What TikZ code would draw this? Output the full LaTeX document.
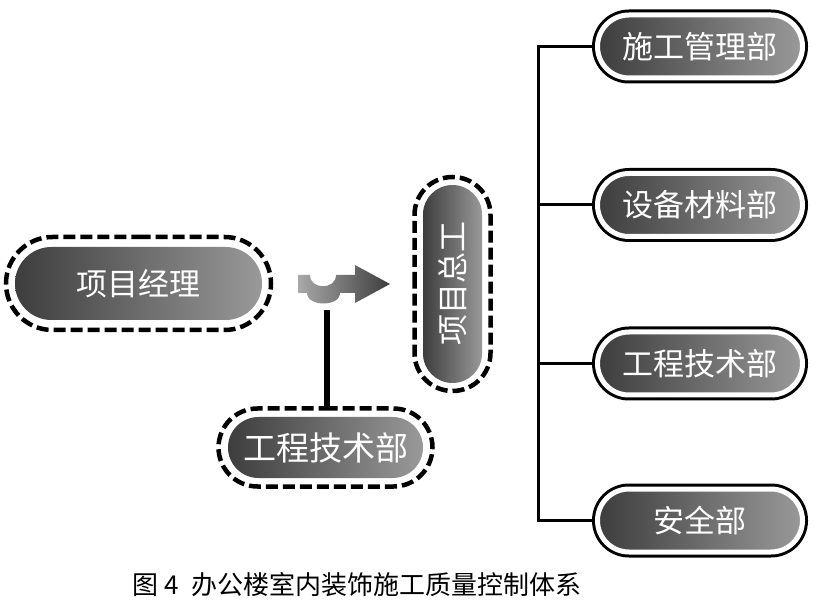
\documentclass[tikz,border=0pt]{standalone}
\usepackage{fontspec}
\newfontfamily\cjk{Noto Sans CJK SC}
\usetikzlibrary{shapes.misc,backgrounds}
\tikzset{
  pillbase/.style={rounded rectangle, text=white, font=\cjk\fontsize{31}{31}\selectfont,
    left color=black!76, right color=black!40, inner sep=0pt},
  solidpill/.style={pillbase, draw=white, line width=5pt,
    preaction={draw=black, line width=11pt}, minimum width=205pt, minimum height=63pt},
  dashframe/.style={rounded rectangle, draw=black, line width=4.5pt,
    dash pattern=on 12pt off 5pt, inner sep=0pt},
  conn/.style={line width=3pt, black},
}
\begin{document}
\begin{tikzpicture}[x=1pt,y=-1pt]
\begin{pgfonlayer}{background}
  \fill[white] (0,0) rectangle (830,609);
\end{pgfonlayer}
\useasboundingbox (0,0) rectangle (830,609);

% left: project manager
\node[pillbase, minimum width=247pt, minimum height=73pt] (pm) at (138.5,283.5) {项目经理};
\node[dashframe, minimum width=265pt, minimum height=93pt] (pmf) at (pm.center) {};

% vertical: chief engineer
\node[pillbase, rotate=90, minimum width=198pt, minimum height=59pt] (zg) at (452.5,284) {项目总工};
\node[dashframe, rotate=90, minimum width=214pt, minimum height=76pt] (zgf) at (zg.center) {};

% bottom: engineering technology dept
\node[pillbase, font=\cjk\fontsize{33}{33}\selectfont, minimum width=195pt, minimum height=61pt] (js) at (325.5,447.5) {工程技术部};
\node[dashframe, minimum width=214pt, minimum height=78pt] (jsf) at (js.center) {};

% right departments
\node[solidpill] (r1) at (700,46.5) {施工管理部};
\node[solidpill] (r2) at (700,205) {设备材料部};
\node[solidpill] (r3) at (700,363.5) {工程技术部};
\node[solidpill] (r4) at (700,520.5) {安全部};

% trunk connectors
\coordinate (tr) at (538,0);
\begin{pgfonlayer}{background}
  \draw[conn] (r1.west) -- (r1.west -| tr) -- (r4.west -| tr) -- (r4.west);
  \draw[conn] (r2.west) -- (r2.west -| tr);
  \draw[conn] (r3.west) -- (r3.west -| tr);
\end{pgfonlayer}

% arrow shape
\shade[left color=black!34, right color=black!76]
  (298,275) -- (310,275) .. controls (310,290) and (336,290) .. (336,275)
  -- (355,275) -- (355,265) -- (390,284) -- (355,303) -- (355,293) -- (340,293)
  .. controls (340,307) and (307,307) .. (307,293) -- (298,293) -- cycle;

% vertical stem under arrow
\coordinate (ja) at (327,310);
\draw[line width=6pt] (ja) -- (ja |- jsf.north);

% caption
\node[font=\cjk\fontsize{26}{26}\selectfont] (cap) at (357,585) {图\hspace{6pt}4\hspace{12pt}办公楼室内装饰施工质量控制体系};
\end{tikzpicture}
\end{document}
